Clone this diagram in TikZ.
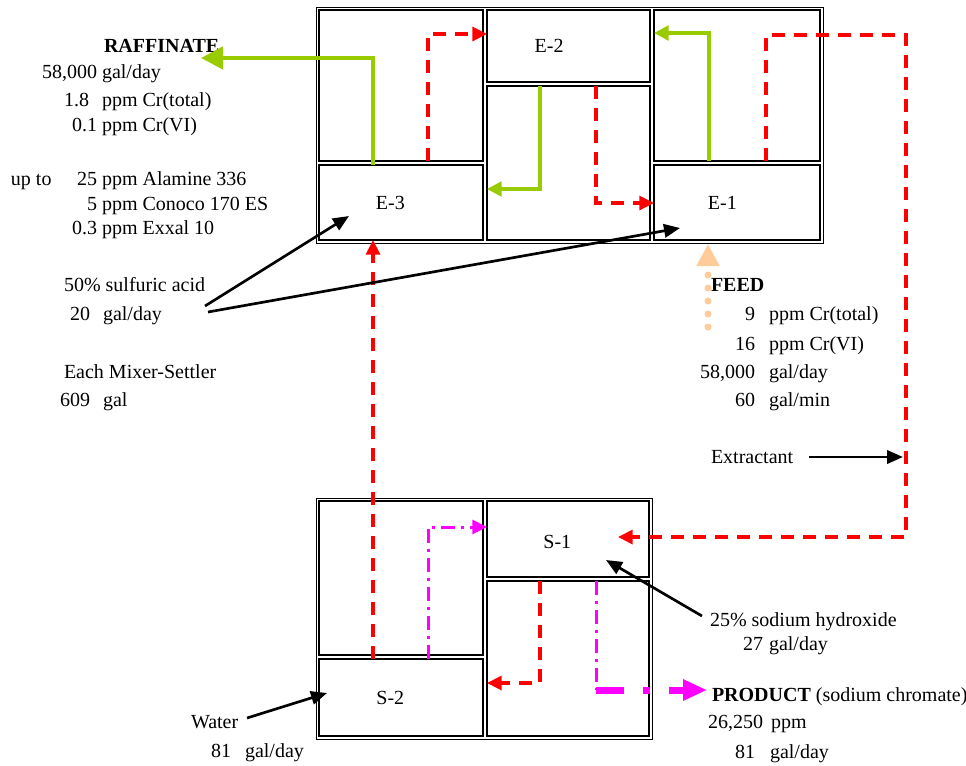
\documentclass[tikz,border=0pt]{standalone}
\usepackage{fontspec}
\setmainfont{Liberation Serif}
\usetikzlibrary{arrows.meta}
\definecolor{grn}{RGB}{153,204,0}
\definecolor{rdd}{RGB}{255,0,0}
\definecolor{mag}{RGB}{255,0,255}
\definecolor{peach}{RGB}{255,204,153}
\tikzset{
  unitframe/.style={draw, line width=0.6pt, inner sep=0pt, outer sep=0pt, rectangle},
  cell/.style={draw, line width=1pt, inner sep=0pt, outer sep=0pt, rectangle},
  celltxt/.style={inner sep=0pt, outer sep=0pt},
  txt/.style={inner sep=0pt, outer sep=0pt},
  grflow/.style={grn, line width=2.5pt, -{Triangle[length=11pt,width=11pt]}},
  grbig/.style={grn, line width=3.4pt, -{Triangle[length=16.5pt,width=16.5pt]}},
  rdflow/.style={rdd, line width=2.4pt, dash pattern=on 9.75pt off 6.75pt, -{Triangle[length=11pt,width=10.5pt]}},
  mgflow/.style={mag, line width=2.25pt, dash pattern=on 10.5pt off 4.5pt on 2.25pt off 4.5pt, -{Triangle[length=11pt,width=10.5pt]}},
  mgline/.style={mag, line width=2.25pt, dash pattern=on 10.5pt off 4.5pt on 2.25pt off 4.5pt},
  mgbig/.style={mag, line width=5.25pt, dash pattern=on 21pt off 14.25pt on 5.25pt off 14pt, -{Triangle[length=18pt,width=15pt]}},
  bkflow/.style={black, line width=2pt, -{Triangle[length=12pt,width=10pt]}},
  feedflow/.style={peach, line width=5.25pt, line cap=round, dash pattern=on 0pt off 9.75pt, -{Triangle[length=16.5pt,width=16.5pt]}},
}
\begin{document}
\begin{tikzpicture}[x=0.75pt,y=-0.75pt,font=\fontsize{15}{18}\selectfont]
\useasboundingbox (0,0) rectangle (966,765);

% extraction unit
\node[unitframe, minimum width=380.25pt, minimum height=177pt] (topunit) at (569.5,125) {};
\node[cell, minimum width=123pt, minimum height=113.25pt] (A1) at (401,85.5) {};
\node[cell, minimum width=123pt, minimum height=56.25pt, label={[celltxt,xshift=-8pt]center:E-3}] (E3) at (401,202.5) {};
\node[cell, minimum width=122.25pt, minimum height=54pt, label={[celltxt,xshift=-14.5pt]center:E-2}] (E2) at (568.5,46) {};
\node[cell, minimum width=122.25pt, minimum height=115.5pt] (M2) at (568.5,163) {};
\node[cell, minimum width=124.5pt, minimum height=113.25pt] (R1) at (737,85.5) {};
\node[cell, minimum width=124.5pt, minimum height=56.25pt, label={[celltxt,xshift=-11pt]center:E-1}] (E1) at (737,202.5) {};

% stripping unit
\node[unitframe, minimum width=252pt, minimum height=180.75pt] (botunit) at (484,618.5) {};
\node[cell, minimum width=123pt, minimum height=115.5pt] (B1) at (401,578) {};
\node[cell, minimum width=123pt, minimum height=57.75pt, label={[celltxt,xshift=-8pt]center:S-2}] (S2) at (401,697.5) {};
\node[cell, minimum width=121.5pt, minimum height=57pt, label={[celltxt,xshift=-8pt,yshift=-2pt]center:S-1}] (S1) at (568,539) {};
\node[cell, minimum width=121.5pt, minimum height=116.25pt] (B2) at (568,658.5) {};

% left texts
\node[txt, anchor=base west] (raff) at (104,52.5) {\textbf{RAFFINATE}};
\node[txt, anchor=base east] (r1n) at (97,78.5) {58,000};
\node[txt, anchor=base west] (r1u) at (102,78.5) {gal/day};
\node[txt, anchor=base east] (r2n) at (89,106) {1.8};
\node[txt, anchor=base west] (r2u) at (102,106) {ppm Cr(total)};
\node[txt, anchor=base east] (r3n) at (97,131) {0.1};
\node[txt, anchor=base west] (r3u) at (102,131) {ppm Cr(VI)};
\node[txt, anchor=base west] (upto) at (11,185) {up to};
\node[txt, anchor=base east] (r4n) at (97,185) {25};
\node[txt, anchor=base west] (r4u) at (102,185) {ppm Alamine 336};
\node[txt, anchor=base east] (r5n) at (97,210) {5};
\node[txt, anchor=base west] (r5u) at (102,210) {ppm Conoco 170 ES};
\node[txt, anchor=base east] (r6n) at (97,234) {0.3};
\node[txt, anchor=base west] (r6u) at (102,234) {ppm Exxal 10};
\node[txt, anchor=base west] (acid) at (64,291.5) {50\% sulfuric acid};
\node[txt, anchor=base west] (acidn) at (70,320) {20};
\node[txt, anchor=base west] (acidu) at (103,320) {gal/day};
\node[txt, anchor=base west] (each) at (64,378) {Each Mixer-Settler};
\node[txt, anchor=base west] (eachn) at (60,406.5) {609};
\node[txt, anchor=base west] (eachu) at (103,406.5) {gal};

% feed texts
\node[txt, anchor=base west] (feed) at (711,291.5) {\textbf{FEED}};
\node[txt, anchor=base east] (f1n) at (755,320) {9};
\node[txt, anchor=base west] (f1u) at (769,320) {ppm Cr(total)};
\node[txt, anchor=base east] (f2n) at (755,350) {16};
\node[txt, anchor=base west] (f2u) at (769,350) {ppm Cr(VI)};
\node[txt, anchor=base east] (f3n) at (755,378) {58,000};
\node[txt, anchor=base west] (f3u) at (769,378) {gal/day};
\node[txt, anchor=base east] (f4n) at (755,406.5) {60};
\node[txt, anchor=base west] (f4u) at (769,406.5) {gal/min};
\node[txt, anchor=base west] (extr) at (711,463) {Extractant};

% bottom texts
\node[txt, anchor=base west] (naoh) at (710,626) {25\% sodium hydroxide};
\node[txt, anchor=base east] (naohn) at (763,650) {27};
\node[txt, anchor=base west] (naohu) at (769,650) {gal/day};
\node[txt, anchor=base west] (prod) at (712,701.5) {\textbf{PRODUCT} (sodium chromate)};
\node[txt, anchor=base east] (p1n) at (763,728) {26,250};
\node[txt, anchor=base west] (p1u) at (771,728) {ppm};
\node[txt, anchor=base east] (p2n) at (755,758) {81};
\node[txt, anchor=base west] (p2u) at (770,758) {gal/day};
\node[txt, anchor=base west] (water) at (191,728) {Water};
\node[txt, anchor=base west] (wn) at (211,757) {81};
\node[txt, anchor=base west] (wu) at (245,757) {gal/day};

% free ends
\coordinate (raffin) at (201,58);
\coordinate (extcorner) at (906,35);
\coordinate (s1in) at (618,537);
\coordinate (pbend) at (596,690);
\coordinate (prodtip) at (707,690);
\coordinate (acidA) at (205,306);
\coordinate (acidB) at (208,312);
\coordinate (e3in) at (349,216);
\coordinate (e1in) at (680,228);
\coordinate (naohA) at (702,616);
\coordinate (s1naoh) at (606,560);
\coordinate (waterA) at (247,718);
\coordinate (s2in) at (327,693);
\coordinate (extA) at (809,457);
\coordinate (extB) at (903,457);
\coordinate (feedA) at (708,327);
\coordinate (feedB) at (708,244);

% aqueous (green) flows
\draw[grbig] (E3.north -| 373,0) |- (raffin);
\draw[grflow] (M2.north -| 540,0) |- (M2.west |- 0,189);
\draw[grflow] (R1.south -| 709,0) |- (R1.west |- 0,33);

% organic (red) flows
\draw[rdflow] (A1.south -| 428,0) |- (E2.west |- 0,34);
\draw[rdflow] (M2.north -| 596,0) |- (E1.west |- 0,203);
\draw[rdflow] (R1.south -| 766,0) |- (extcorner) |- (s1in);
\draw[rdflow] (S2.north -| 373,0) -- (E3.south -| 373,0);
\draw[rdflow] (B2.north -| 540,0) |- (B2.west |- 0,683);

% strip (magenta) flows
\draw[mgflow] (S2.north -| 428,0) |- (S1.west |- 0,527);
\draw[mgline] (B2.north -| 596,0) -- (pbend);
\draw[mgbig] (pbend) -- (prodtip);

% black feeds
\draw[bkflow] (acidA) -- (e3in);
\draw[bkflow] (acidB) -- (e1in);
\draw[bkflow] (naohA) -- (s1naoh);
\draw[bkflow] (waterA) -- (s2in);
\draw[bkflow] (extA) -- (extB);
\draw[feedflow] (feedA) -- (feedB);
\end{tikzpicture}
\end{document}
